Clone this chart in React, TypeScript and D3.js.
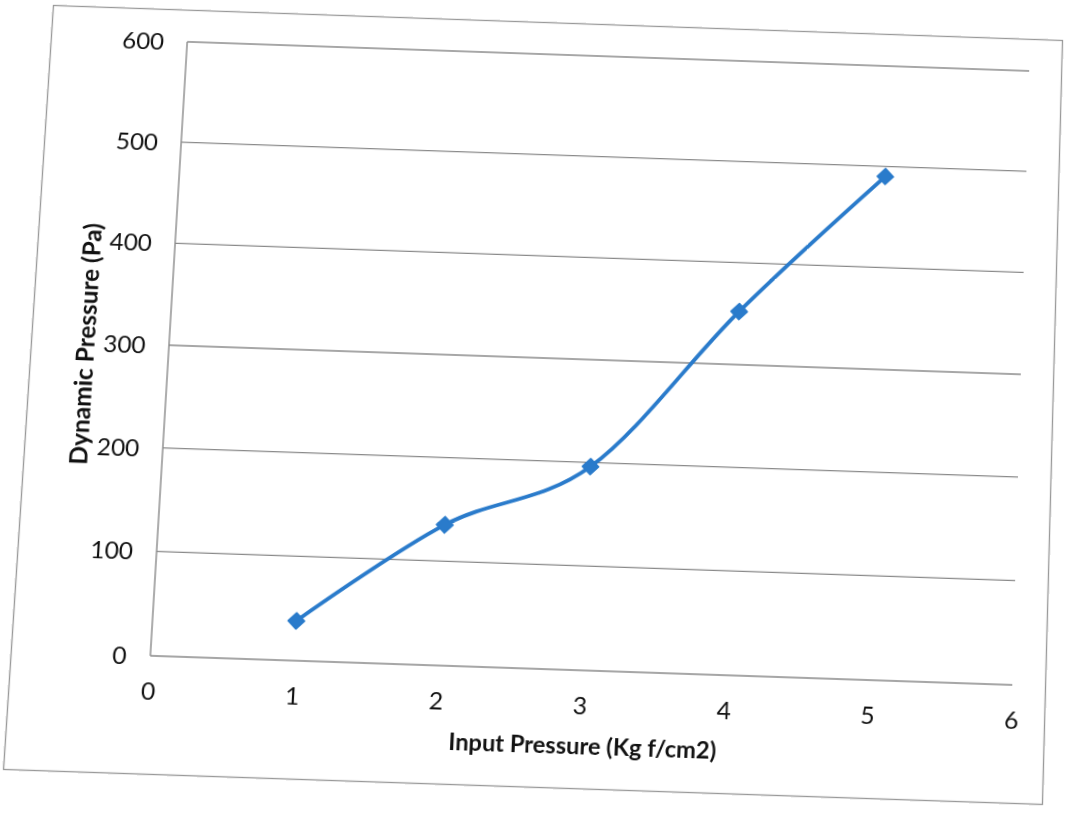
import React from "react";
import * as d3 from "d3";

// Measured series: dynamic pressure against input pressure
const inputPressure = [1, 2, 3, 4, 5];
const dynamicPressure = [38, 135, 196, 352, 490];

const xTicks = [0, 1, 2, 3, 4, 5, 6];
const yTicks = [0, 100, 200, 300, 400, 500, 600];

const xTitle = "Input Pressure (Kg f/cm2)";
const yTitle = "Dynamic Pressure (Pa)";

// Sheet size in its own units, and where its four corners land on the page
// (top-left, top-right, bottom-right, bottom-left): the printed sheet sits skewed.
const W = 1010;
const H = 765;
const corners: [number, number][] = [
  [53, 5],
  [1063, 40],
  [1043, 805],
  [3, 770],
];

// Projective map of the W x H sheet onto the corner quad, as a CSS matrix3d.
function sheetMatrix(): string {
  const [[x0, y0], [x1, y1], [x2, y2], [x3, y3]] = corners;
  const dx1 = x1 - x2, dx2 = x3 - x2, dx3 = x0 - x1 + x2 - x3;
  const dy1 = y1 - y2, dy2 = y3 - y2, dy3 = y0 - y1 + y2 - y3;
  const den = dx1 * dy2 - dx2 * dy1;
  const g = (dx3 * dy2 - dx2 * dy3) / den;
  const h = (dx1 * dy3 - dx3 * dy1) / den;
  const a = x1 - x0 + g * x1;
  const b = x3 - x0 + h * x3;
  const c = x0;
  const d = y1 - y0 + g * y1;
  const e = y3 - y0 + h * y3;
  const f = y0;
  const m = [
    a / W, d / W, 0, g / W,
    b / H, e / H, 0, h / H,
    0, 0, 1, 0,
    c, f, 0, 1,
  ];
  return `matrix3d(${m.join(",")})`;
}

const plot = { left: 136, right: 977, top: 33, bottom: 649 };

const FONT = "Lato, 'Open Sans', sans-serif";
const GRID = "#8a8a8a";
const BLUE = "#2a7bcb";

export default function App() {
  const x = d3.scaleLinear().domain([0, 6]).range([plot.left, plot.right]);
  const y = d3.scaleLinear().domain([0, 600]).range([plot.bottom, plot.top]);

  const points = inputPressure.map((v, i) => [x(v), y(dynamicPressure[i])] as [number, number]);
  const path = d3.line().curve(d3.curveCardinal.tension(0))(points) || "";
  const diamond = d3.symbol(d3.symbolSquare, 130)() || "";

  return (
    <div
      style={{
        position: "absolute",
        left: 0,
        top: 0,
        width: W,
        height: H,
        transformOrigin: "0 0",
        transform: sheetMatrix(),
      }}
    >
      <svg width={W} height={H} style={{ display: "block", overflow: "visible" }} fontFamily={FONT}>
        <rect x={0.5} y={0.5} width={W - 1} height={H - 1} fill="#fff" stroke="#999" strokeWidth={1.3} />

        {yTicks.map((t) => (
          <line key={`g${t}`} x1={plot.left} x2={plot.right} y1={y(t)} y2={y(t)} stroke={GRID} strokeWidth={1.4} />
        ))}
        <line x1={plot.left} x2={plot.left} y1={plot.top} y2={plot.bottom} stroke={GRID} strokeWidth={1.4} />

        {yTicks.map((t) => (
          <text key={`y${t}`} x={plot.left - 23} y={y(t)} textAnchor="end" dominantBaseline="central" fontSize={24} fill="#111">
            {t}
          </text>
        ))}
        {xTicks.map((t) => (
          <text key={`x${t}`} x={x(t)} y={plot.bottom + 34} textAnchor="middle" dominantBaseline="central" fontSize={24} fill="#111">
            {t}
          </text>
        ))}

        <text x={(plot.left + plot.right) / 2 + 4} y={722} textAnchor="middle" dominantBaseline="central" fontSize={23} fontWeight={700} fill="#111">
          {xTitle}
        </text>
        <text
          transform={`translate(53,${(plot.top + plot.bottom) / 2 + 1}) rotate(-90)`}
          textAnchor="middle"
          dominantBaseline="central"
          fontSize={24.5}
          fontWeight={700}
          fill="#111"
        >
          {yTitle}
        </text>

        <path d={path} fill="none" stroke={BLUE} strokeWidth={3.8} strokeLinecap="round" />
        {points.map(([px, py], i) => (
          <path key={`m${i}`} d={diamond} transform={`translate(${px},${py}) rotate(45)`} fill={BLUE} stroke={BLUE} strokeWidth={1.5} strokeLinejoin="round" />
        ))}
      </svg>
    </div>
  );
}
